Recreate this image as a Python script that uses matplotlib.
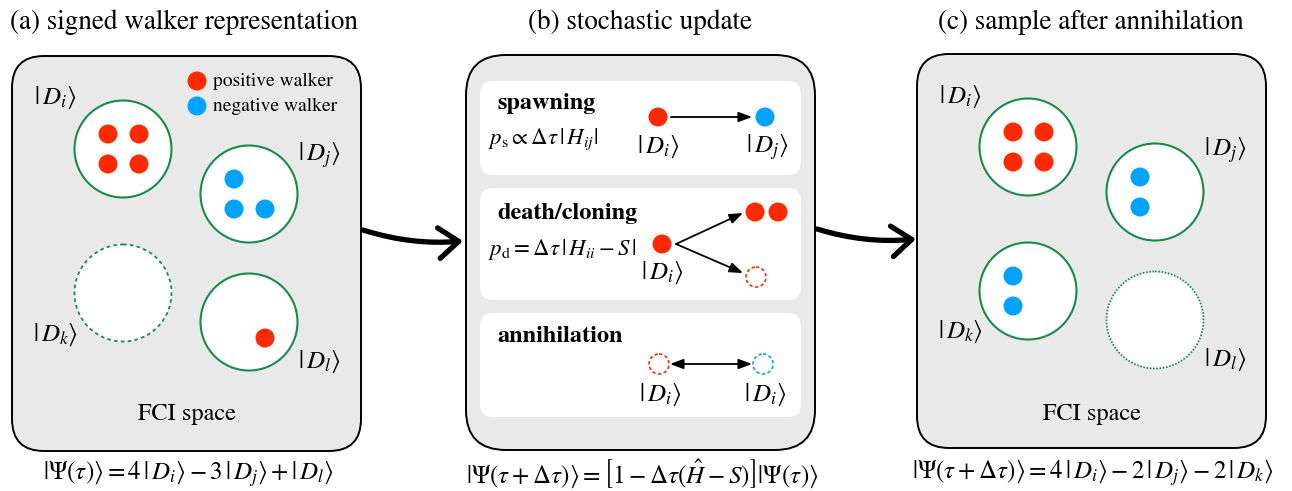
import matplotlib
matplotlib.use("Agg")
import matplotlib.pyplot as plt
from matplotlib.patches import FancyBboxPatch, FancyArrowPatch, Circle

plt.rcParams["font.family"] = "STIXGeneral"
plt.rcParams["mathtext.fontset"] = "stix"

RED = "#ff2a00"
BLUE = "#00a2ff"
GREEN = "#1a8a4c"
GREY = "#e9e9e9"

# walker content of each determinant (sign = walker sign)
states = ["i", "j", "k", "l"]
walkers_before = [4, -3, 0, 1]
walkers_after = [4, -2, -2, 0]

titles = ["(a) signed walker representation", "(b) stochastic update",
          "(c) sample after annihilation"]
eq_a = r"$|\Psi(\tau)\rangle = 4\,|\,D_i\rangle - 3\,|\,D_j\rangle + |\,D_l\rangle$"
eq_b = r"$|\Psi(\tau+\Delta\tau)\rangle = \left[1 - \Delta\tau(\hat{H} - S)\right]|\Psi(\tau)\rangle$"
eq_c = r"$|\Psi(\tau+\Delta\tau)\rangle = 4\,|\,D_i\rangle - 2\,|\,D_j\rangle - 2\,|\,D_k\rangle$"

R_DET = 48.5
R_DOT = 9.5

# dot offsets inside a determinant, by number of walkers
dot_layout = {
    4: [(-15, -15), (16, -15), (-15, 15), (16, 15)],
    3: [(-15, -15), (-15, 15), (16, 15)],
    2: [(-15, -15), (-15, 15)],
    1: [(16, 16)],
    0: [],
}

fig = plt.figure(figsize=(12.92, 4.91), dpi=100)
ax = fig.add_axes([0, 0, 1, 1])
ax.set_xlim(0, 1292)
ax.set_ylim(491, 0)
ax.set_aspect("equal")
ax.axis("off")


def rbox(x0, y0, x1, y1, r, fc, ec="black", lw=1.4):
    ax.add_patch(FancyBboxPatch((x0, y0), x1 - x0, y1 - y0,
                                boxstyle=f"round,pad=0,rounding_size={r}",
                                fc=fc, ec=ec, lw=lw, zorder=1))


def dot(x, y, c, r=R_DOT):
    ax.add_patch(Circle((x, y), r, fc=c, ec="none", zorder=4))


def ket(x, y, s, size=18, ha="center"):
    ax.text(x, y, rf"$|\,D_{s}\rangle$", fontsize=size, ha=ha, va="center", zorder=5)


def fci_panel(x0, y0, x1, y1, centers, label_pos, walkers, empty_ls):
    rbox(x0, y0, x1, y1, 32, GREY)
    for (cx, cy), (lx, ly), s, n in zip(centers, label_pos, states, walkers):
        ls = "-" if n != 0 else empty_ls
        ax.add_patch(Circle((cx, cy), R_DET, fc="white", ec=GREEN,
                            lw=1.5 if n != 0 else 1.3, ls=ls, zorder=3))
        col = RED if n > 0 else BLUE
        for dx, dy in dot_layout[abs(n)]:
            dot(cx + dx, cy + dy, col)
        ket(lx, ly, s)
    ax.text((x0 + x1) / 2, 414, "FCI space", fontsize=17.5, ha="center", va="center")


# panel (a)
ax.text(184, 22, titles[0], fontsize=19.5, ha="center", va="center")
fci_panel(12, 56, 361, 451,
          [(123, 149), (249, 194), (123, 293), (249, 322)],
          [(55, 98), (319, 155), (56, 335), (319, 362)],
          walkers_before, (0, (2.0, 1.8)))
dot(197, 81, RED)
dot(197, 106, BLUE)
ax.text(213, 81, "positive walker", fontsize=14, ha="left", va="center")
ax.text(213, 106, "negative walker", fontsize=14, ha="left", va="center")
ax.text(188, 474, eq_a, fontsize=18, ha="center", va="center")

# panel (c)
ax.text(1091, 22, titles[2], fontsize=19.5, ha="center", va="center")
fci_panel(917, 54, 1266, 448,
          [(1028, 147), (1155, 192), (1028, 291), (1155, 320)],
          [(960, 97), (1225, 150), (961, 332), (1225, 360)],
          walkers_after, (0, (0.9, 0.9)))
ax.text(1093, 473, eq_c, fontsize=18, ha="center", va="center")

# panel (b)
ax.text(640, 22, titles[1], fontsize=19.5, ha="center", va="center")
rbox(466, 55, 815, 450, 40, GREY)
for y0, y1 in [(81, 175), (188, 300), (313, 417)]:
    rbox(480, y0, 801, y1, 13, "white", ec="none")

small = dict(arrowstyle="-|>,head_length=0.8,head_width=0.3", color="black",
             lw=1.3, mutation_scale=10, shrinkA=0, shrinkB=0, zorder=5)

# spawning
ax.text(497, 103, "spawning", fontsize=17.5, fontweight="bold", ha="left", va="center")
ax.text(488, 139, r"$p_{\rm s} \propto \Delta\tau\,|\,H_{ij}|$", fontsize=16.5,
        ha="left", va="center")
dot(658, 117, RED)
dot(765, 117, BLUE)
ax.add_patch(FancyArrowPatch((671, 117), (752, 117), **small))
ket(658, 147, "i")
ket(767, 147, "j")

# death / cloning
ax.text(497, 213, "death/cloning", fontsize=17.5, fontweight="bold", ha="left", va="center")
ax.text(488, 249, r"$p_{\rm d} = \Delta\tau\,|\,H_{ii} - S\,|$", fontsize=16.5,
        ha="left", va="center")
dot(662, 244, RED)
dot(755, 212, RED)
dot(778, 212, RED)
ax.add_patch(Circle((756, 277), 10, fc="none", ec=RED, lw=1.2, ls=(0, (2, 1.5)), zorder=4))
ax.add_patch(FancyArrowPatch((676, 244), (743, 213), **small))
ax.add_patch(FancyArrowPatch((676, 244), (743, 273), **small))
ket(662, 273, "i")

# annihilation
ax.text(497, 337, "annihilation", fontsize=17.5, fontweight="bold", ha="left", va="center")
ax.add_patch(Circle((659, 364), 10, fc="none", ec=RED, lw=1.2, ls=(0, (2, 1.5)), zorder=4))
ax.add_patch(Circle((763, 364), 10, fc="none", ec=BLUE, lw=1.2, ls=(0, (2, 1.5)), zorder=4))
both = dict(small)
both["arrowstyle"] = "<|-|>,head_length=0.8,head_width=0.3"
ax.add_patch(FancyArrowPatch((670, 364), (752, 364), **both))
ket(660, 395, "i")
ket(765, 395, "i")
ax.text(642, 474, eq_b, fontsize=18, ha="center", va="center")

# flow arrows between panels
big = dict(arrowstyle="->,head_length=0.65,head_width=0.5", color="black",
           lw=3.8, mutation_scale=22, shrinkA=0, shrinkB=0,
           connectionstyle="arc3,rad=0.1", zorder=6)
ax.add_patch(FancyArrowPatch((363, 230), (463, 241), **big))
ax.add_patch(FancyArrowPatch((817, 229), (916, 239), **big))

fig.savefig("out.png", dpi=100, facecolor="white")
